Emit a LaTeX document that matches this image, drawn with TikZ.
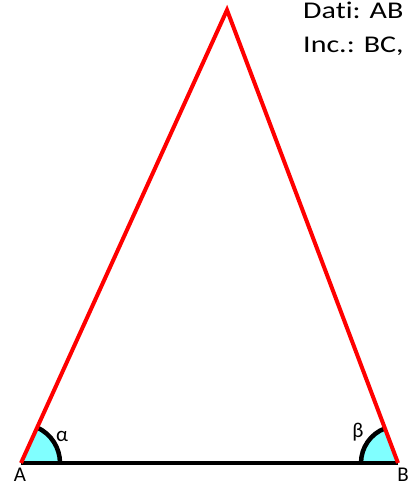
\documentclass[tikz,border=0pt]{standalone}
\usepackage{fontspec}
\setmainfont[Ligatures=NoCommon]{Carlito}
\newfontfamily\datifont[FakeStretch=1.25, Ligatures=NoCommon]{Carlito}
\usetikzlibrary{calc}
\definecolor{angcyan}{RGB}{128,255,255}

\begin{document}
\begin{tikzpicture}[
    x=1pt, y=-1pt,
    side/.style={red, line width=4pt, line join=miter},
    base/.style={black, line width=4pt},
    angfill/.style={fill=angcyan},
    angarc/.style={black, line width=4.5pt},
    lbl/.style={font=\fontsize{21}{25}\selectfont, inner sep=0pt},
    txt/.style={font=\datifont\fontsize{24}{28}\selectfont, inner sep=0pt, anchor=base west}
]
\useasboundingbox (0,0) rectangle (411,485);

\coordinate (A) at (21,463);
\coordinate (B) at (398,463);
\coordinate (C) at (227,10);

% angoli (asse y rovesciato)
\fill[angfill] (A) -- ++(39,0) arc[start angle=0, end angle=-65.5, radius=39] -- cycle;
\fill[angfill] (B) -- ++(-37,0) arc[start angle=180, end angle=249.3, radius=37] -- cycle;

\draw[base] (A) -- (B);
\draw[angarc] ($(A)+(39,0)$) arc[start angle=0, end angle=-65.5, radius=39];
\draw[angarc] ($(B)+(-37,0)$) arc[start angle=180, end angle=249.3, radius=37];

\draw[side] (A) -- (C) -- (B);

\node[lbl] (alpha) at (62,436) {α};
\node[lbl] (beta) at (358,432) {β};
\node[lbl, anchor=base] (lA) at (20,481) {A};
\node[lbl, anchor=base] (lB) at (403,481) {B};

\node[txt] (dati) at (303,18) {Dati: AB};
\node[txt] (inc) at (303,52) {Inc.: BC,};
\end{tikzpicture}
\end{document}
